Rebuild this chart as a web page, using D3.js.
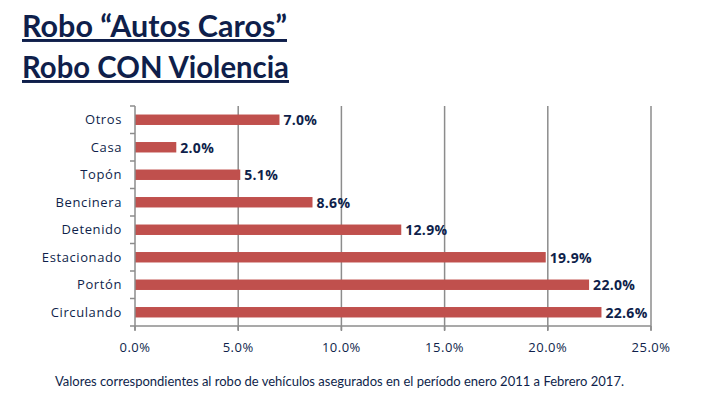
<!DOCTYPE html>
<html><head><meta charset="utf-8">
<script src="https://cdn.jsdelivr.net/npm/d3@7"></script>
<style>body{margin:0;background:#fff}svg{display:block}</style>
</head><body>
<svg id="c" width="720" height="405"></svg>
<script>
const categories = ["Otros","Casa","Topón","Bencinera","Detenido","Estacionado","Portón","Circulando"];
const values = [7.0,2.0,5.1,8.6,12.9,19.9,22.0,22.6];
const xTicks = [0,5,10,15,20,25];
const titleLines = ["Robo “Autos Caros”","Robo CON Violencia"];
const footnote = "Valores correspondientes al robo de vehículos asegurados en el período enero 2011 a Febrero 2017.";

const navy = "#0f1f4b";
const svg = d3.select("#c");
const m = {left:135, right:651, top:106, bottom:326};
const x = d3.scaleLinear().domain([0,25]).range([m.left,m.right]);
const y = d3.scaleBand().domain(categories).range([m.top,m.bottom]).paddingInner(0.62).paddingOuter(0.31);

// title
const titleWidths = [265, 267];
titleLines.forEach((t,i)=>{
  svg.append("text").attr("x",22).attr("y",37+i*41)
    .attr("font-family","Lato, 'Open Sans', sans-serif").attr("font-weight","bold")
    .attr("font-size",29.5).attr("fill",navy).attr("text-decoration","underline")
    .attr("textLength",titleWidths[i]).attr("lengthAdjust","spacingAndGlyphs").text(t);
});

// gridlines
svg.append("g").selectAll("line").data(xTicks.slice(1)).join("line")
  .attr("x1",d=>x(d)).attr("x2",d=>x(d)).attr("y1",m.top).attr("y2",m.bottom+4)
  .attr("stroke","#8c8c8c").attr("stroke-width",1.5);

// bars
svg.append("g").selectAll("rect").data(values).join("rect")
  .attr("x",x(0)).attr("y",(d,i)=>y(categories[i]))
  .attr("width",d=>x(d)-x(0)).attr("height",y.bandwidth())
  .attr("fill","#c0504d");

// y axis
const yb = d3.scaleBand().domain(categories).range([m.top,m.bottom]);
const ya = svg.append("g").attr("transform",`translate(${m.left},0)`);
ya.append("line").attr("x1",0).attr("x2",0).attr("y1",m.top).attr("y2",m.bottom+4).attr("stroke","#8c8c8c").attr("stroke-width",1.5);
const bounds = categories.map(c=>yb(c)).concat([m.bottom]);
ya.selectAll("line.t").data(bounds).join("line").attr("class","t")
  .attr("x1",-5).attr("x2",0).attr("y1",d=>d).attr("y2",d=>d).attr("stroke","#8c8c8c").attr("stroke-width",1.5);
ya.selectAll("text").data(categories).join("text")
  .attr("x",-13).attr("y",d=>yb(d)+yb.bandwidth()/2).attr("dy","0.35em")
  .attr("text-anchor","end").attr("font-family","'Open Sans', sans-serif").attr("font-size",13)
  .attr("letter-spacing",0.6).attr("fill",navy).text(d=>d);

// x axis
const xa = svg.append("g").attr("transform",`translate(0,${m.bottom})`);
xa.append("line").attr("x1",m.left).attr("x2",m.right).attr("y1",0).attr("y2",0).attr("stroke","#8c8c8c").attr("stroke-width",1.5);
xa.selectAll("text").data(xTicks).join("text")
  .attr("x",d=>x(d)).attr("y",26).attr("text-anchor","middle")
  .attr("font-family","'Open Sans', sans-serif").attr("font-size",13).attr("letter-spacing",0.5)
  .attr("fill",navy).text(d=>d3.format(".1f")(d)+"%");
xa.selectAll("line.t").data(xTicks).join("line").attr("class","t")
  .attr("x1",d=>x(d)).attr("x2",d=>x(d)).attr("y1",0).attr("y2",5).attr("stroke","#8c8c8c").attr("stroke-width",1.5);

// value labels
svg.append("g").selectAll("text").data(values).join("text")
  .attr("x",d=>x(d)+4).attr("y",(d,i)=>y(categories[i])+y.bandwidth()/2).attr("dy","0.38em")
  .attr("font-family","'Open Sans', sans-serif").attr("font-weight","bold").attr("font-size",14)
  .attr("letter-spacing",0.3).attr("fill",navy).text(d=>d3.format(".1f")(d)+"%");

// footnote
svg.append("text").attr("x",55).attr("y",386).attr("font-family","Lato, 'Open Sans', sans-serif")
  .attr("font-size",12.5).attr("fill",navy).attr("textLength",569).attr("lengthAdjust","spacingAndGlyphs").text(footnote);
</script>
</body></html>
